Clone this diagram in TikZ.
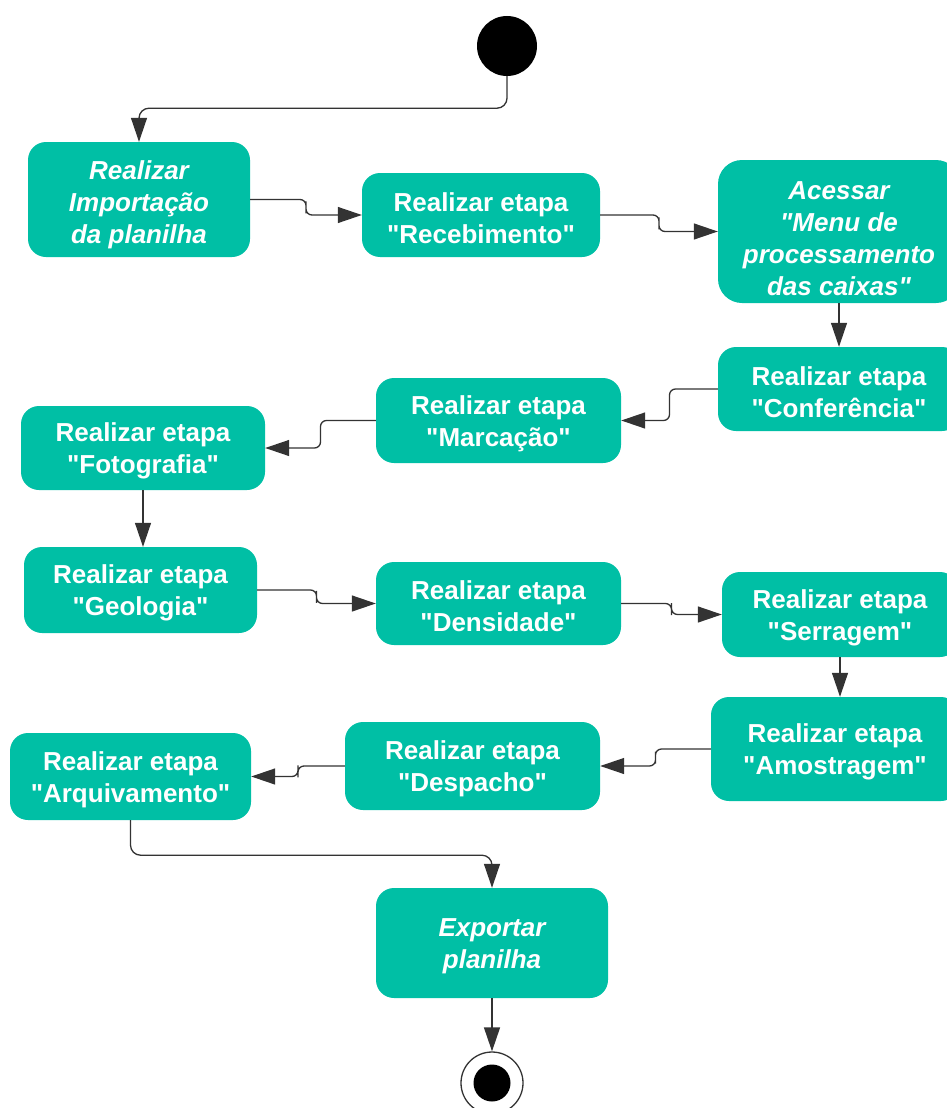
\documentclass[tikz,border=0pt]{standalone}
\usepackage{fontspec}
\setmainfont{Liberation Sans}[Ligatures=TeXOff]
\usetikzlibrary{arrows.meta,calc}
\definecolor{teal}{RGB}{0,191,165}
\definecolor{linegray}{RGB}{51,51,51}
\newcommand{\st}[1][25pt]{\rule{0pt}{#1}}
\tikzset{
  box/.style={fill=teal, draw=none, rounded corners=18pt, inner sep=0pt, align=center,
    text=white, font=\fontsize{26}{32}\selectfont\bfseries},
  ibox/.style={box, font=\fontsize{26}{32}\selectfont\bfseries\itshape},
  conn/.style={draw=linegray, line width=1.3pt, rounded corners=6pt,
    -{Triangle[length=24pt,width=16pt]}},
}
\begin{document}
\begin{tikzpicture}[x=1pt,y=-1pt]
\useasboundingbox (0,0) rectangle (947,1108);
% start / end
\node[circle, fill=black, minimum size=60pt, inner sep=0pt] (start) at (507,46) {};
\node[circle, fill=white, draw=linegray, line width=1.3pt, minimum size=62pt, inner sep=0pt] (endo) at (492,1083) {};
\node[circle, fill=black, minimum size=37pt, inner sep=0pt] (endi) at (492,1083) {};
% boxes
\node[ibox, minimum width=222pt, minimum height=115pt] (b1) at (139,199.5) {\st[29pt]Realizar\\Importação\\da planilha};
\node[box, minimum width=238pt, minimum height=84pt] (b2) at (481,215) {\st Realizar etapa\\"Recebimento"};
\node[ibox, minimum width=242pt, minimum height=143pt, rounded corners=24pt] (b3) at (839,231.5) {\st[33pt]Acessar\\"Menu de\\processamento\\das caixas"};
\node[box, minimum width=242pt, minimum height=84pt] (b4) at (839,389) {\st Realizar etapa\\"Conferência"};
\node[box, minimum width=245pt, minimum height=85pt] (b5) at (498.5,420.5) {\st Realizar etapa\\"Marcação"};
\node[box, minimum width=244pt, minimum height=84pt] (b6) at (143,448) {\st Realizar etapa\\"Fotografia"};
\node[box, minimum width=233pt, minimum height=86pt] (b7) at (140.5,590) {\st Realizar etapa\\"Geologia"};
\node[box, minimum width=245pt, minimum height=83pt] (b8) at (498.5,603.5) {\st Realizar etapa\\"Densidade"};
\node[box, minimum width=236pt, minimum height=85pt] (b9) at (840,614.5) {\st Realizar etapa\\"Serragem"};
\node[box, minimum width=248pt, minimum height=104pt] (b10) at (835,749) {\st Realizar etapa\\"Amostragem"};
\node[box, minimum width=255pt, minimum height=88pt] (b11) at (472.5,766) {\st Realizar etapa\\"Despacho"};
\node[box, minimum width=241pt, minimum height=87pt] (b12) at (130.5,776.5) {\st Realizar etapa\\"Arquivamento"};
\node[ibox, minimum width=232pt, minimum height=110pt] (b13) at (492,943) {\st Exportar\\planilha};
% connectors
\draw[conn, rounded corners=10pt] (start.south) -- ++(0,32) -| (b1.north);
\draw[conn] (b1.east) -| ($(b1.east)!.5!(b2.west)$) |- (b2.west);
\draw[conn] (b2.east) -| ($(b2.east)!.5!(b3.west)$) |- (b3.west);
\draw[conn] (b3.south) -- (b3.south |- b4.north);
\draw[conn] (b4.west) -| ($(b4.west)!.5!(b5.east)$) |- (b5.east);
\draw[conn] (b5.west) -| ($(b5.west)!.5!(b6.east)$) |- (b6.east);
\draw[conn] (b6.south) -- (b6.south |- b7.north);
\draw[conn] (b7.east) -| ($(b7.east)!.5!(b8.west)$) |- (b8.west);
\draw[conn] (b8.east) -| ($(b8.east)!.5!(b9.west)$) |- (b9.west);
\draw[conn] (b9.south) -- (b9.south |- b10.north);
\draw[conn] (b10.west) -| ($(b10.west)!.5!(b11.east)$) |- (b11.east);
\draw[conn] (b11.west) -| ($(b11.west)!.5!(b12.east)$) |- (b12.east);
\draw[conn, rounded corners=10pt] (b12.south) -- ++(0,35) -| (b13.north);
\draw[conn] (b13.south) -- (b13.south |- endo.north);
\end{tikzpicture}
\end{document}
